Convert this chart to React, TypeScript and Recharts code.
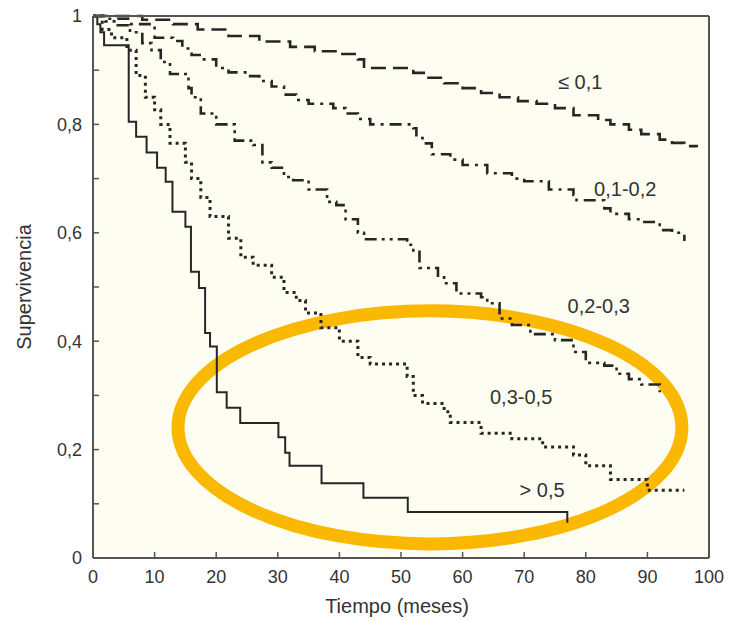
import React from 'react'
import {
  LineChart, Line, XAxis, YAxis, CartesianGrid, ReferenceArea, ReferenceDot, Label
} from 'recharts'

// Kaplan-Meier curves (tiempo en meses, supervivencia)
const groups = ['≤ 0,1', '0,1-0,2', '0,2-0,3', '0,3-0,5', '> 0,5']

const timeA = [0, 8, 13, 17, 22, 27, 32, 36, 40, 43, 44, 52, 54, 57, 60, 63, 66, 69, 72, 75, 78, 82, 84, 87, 89, 92, 94, 96, 98]
const survA = [1, 0.993, 0.985, 0.975, 0.963, 0.953, 0.943, 0.935, 0.93, 0.92, 0.904, 0.895, 0.886, 0.876, 0.867, 0.858, 0.85, 0.843, 0.838, 0.83, 0.817, 0.808, 0.8, 0.79, 0.782, 0.772, 0.766, 0.76, 0.758]

const timeB = [0, 2, 6, 10, 13, 14.5, 16, 18, 20, 22, 25, 27, 29, 31, 33, 35, 39, 41, 43, 45, 52, 52.5, 53.5, 55, 58, 60, 64, 68, 70, 74, 78, 78.5, 83, 84, 87, 89, 92, 94, 96]
const survB = [1, 0.995, 0.985, 0.96, 0.954, 0.94, 0.928, 0.92, 0.904, 0.896, 0.889, 0.88, 0.87, 0.855, 0.845, 0.838, 0.83, 0.82, 0.81, 0.8, 0.793, 0.775, 0.765, 0.745, 0.735, 0.725, 0.71, 0.7, 0.695, 0.68, 0.67, 0.66, 0.645, 0.635, 0.625, 0.62, 0.605, 0.6, 0.585]

const timeC = [0, 2, 4, 6, 8, 9.5, 11, 12.5, 15.5, 16, 17.5, 20, 23, 26, 27.5, 29, 31, 32.5, 35, 38, 39.5, 41, 43, 44, 51, 52, 53, 56, 57, 59, 63, 64, 66, 68, 71, 75, 78, 80, 83, 85, 87, 89, 92]
const survC = [1, 0.99, 0.983, 0.97, 0.95, 0.937, 0.915, 0.893, 0.867, 0.85, 0.82, 0.8, 0.77, 0.762, 0.73, 0.72, 0.703, 0.697, 0.68, 0.657, 0.651, 0.625, 0.6, 0.588, 0.578, 0.565, 0.535, 0.518, 0.507, 0.488, 0.481, 0.47, 0.442, 0.43, 0.413, 0.402, 0.38, 0.36, 0.355, 0.34, 0.33, 0.32, 0.306]

const timeD = [0, 1.5, 3, 5.5, 7, 8.5, 10, 11, 12.5, 15, 16, 17.5, 19, 22, 24, 26, 29, 31, 33, 34.5, 37, 40, 43, 45, 51, 52, 53.5, 57, 58, 63, 68, 73, 78, 80, 84, 90, 96]
const survD = [1, 0.975, 0.96, 0.937, 0.89, 0.85, 0.827, 0.8, 0.765, 0.73, 0.7, 0.665, 0.63, 0.59, 0.555, 0.54, 0.518, 0.49, 0.475, 0.452, 0.425, 0.4, 0.37, 0.358, 0.335, 0.3, 0.285, 0.27, 0.25, 0.23, 0.22, 0.205, 0.19, 0.17, 0.145, 0.125, 0.125]

const timeE = [0, 0.7, 1.2, 1.8, 5.8, 7, 8.7, 10.4, 11.8, 12.9, 15, 15.9, 17.2, 18.2, 19, 20.1, 21.7, 23.9, 30.1, 31.2, 31.9, 37.1, 43.9, 51.1, 77, 77]
const survE = [1, 0.985, 0.97, 0.946, 0.805, 0.777, 0.748, 0.72, 0.694, 0.639, 0.611, 0.528, 0.498, 0.415, 0.39, 0.306, 0.277, 0.249, 0.223, 0.194, 0.17, 0.138, 0.111, 0.085, 0.085, 0.065]

const xTicks = [0, 10, 20, 30, 40, 50, 60, 70, 80, 90, 100]
const yTicks = [0, 0.1, 0.2, 0.3, 0.4, 0.5, 0.6, 0.7, 0.8, 0.9, 1]

const toRows = (t: number[], s: number[]) => t.map((v, i) => ({ t: v, s: s[i] }))

const series = [
  { name: groups[0], data: toRows(timeA, survA), dash: '15 7', width: 2.6 },
  { name: groups[1], data: toRows(timeB, survB), dash: '12 6 3 6', width: 2.6 },
  { name: groups[2], data: toRows(timeC, survC), dash: '12 5 3 5 3 5', width: 2.6 },
  { name: groups[3], data: toRows(timeD, survD), dash: '3 4', width: 3 },
  { name: groups[4], data: toRows(timeE, survE), dash: undefined, width: 2 },
]

// where each group name sits, in data units
const labelSpots = [
  { x: 79.1, y: 0.878 },
  { x: 86.4, y: 0.681 },
  { x: 82.1, y: 0.465 },
  { x: 69.5, y: 0.297 },
  { x: 72.9, y: 0.125 },
]

const INK = '#262626'
const TEXT = '#333'
const FONT = '"Liberation Sans", Arial, sans-serif'

const fmtY = (v: number) => {
  const k = Math.round(v * 10)
  if (k % 2 !== 0) return ''
  if (k === 0) return '0'
  if (k === 10) return '1'
  return `0,${k}`
}

const Ellipse = (p: any) => (
  <ellipse
    cx={p.x + p.width / 2}
    cy={p.y + p.height / 2}
    rx={Math.abs(p.width) / 2}
    ry={Math.abs(p.height) / 2}
    fill="none"
    stroke="#fbb800"
    strokeWidth={13}
  />
)

export default function App() {
  return (
    <div style={{ position: 'absolute', left: 0, top: 0, background: '#fff', fontFamily: FONT }}>
      <LineChart width={731} height={621} margin={{ top: 0, right: 0, left: 0, bottom: 0 }}>
        <CartesianGrid fill="#fdfdf1" horizontal={false} vertical={false} />
        <XAxis
          dataKey="t" type="number" domain={[0, 100]} ticks={xTicks} interval={0}
          height={63} tickSize={-6} tickMargin={18}
          axisLine={{ stroke: '#555', strokeWidth: 2 }} tickLine={{ stroke: '#555', strokeWidth: 1.5 }}
          tick={{ fill: TEXT, fontSize: 18, fontFamily: FONT }}
        >
          <Label
            content={(p: any) => (
              <text x={p.viewBox.x + p.viewBox.width / 2 - 4} y={p.viewBox.y + p.viewBox.height - 8}
                textAnchor="middle" fill={TEXT} fontSize={20} fontFamily={FONT}>
                Tiempo (meses)
              </text>
            )}
          />
        </XAxis>
        <XAxis
          xAxisId="top" orientation="top" type="number" domain={[0, 100]} ticks={xTicks} interval={0}
          height={16} tickSize={-6} tickFormatter={() => ''}
          axisLine={{ stroke: '#555', strokeWidth: 2 }} tickLine={{ stroke: '#555', strokeWidth: 1.5 }}
        />
        <YAxis
          type="number" domain={[0, 1]} ticks={yTicks} interval={0} width={93}
          tickSize={-6} tickMargin={17} tickFormatter={fmtY}
          axisLine={{ stroke: '#555', strokeWidth: 2 }} tickLine={{ stroke: '#555', strokeWidth: 1.5 }}
          tick={{ fill: TEXT, fontSize: 18, fontFamily: FONT }}
        >
          <Label
            content={(p: any) => {
              const x = p.viewBox.x + 31
              const y = p.viewBox.y + p.viewBox.height / 2
              return (
                <text x={x} y={y} transform={`rotate(-90 ${x} ${y})`}
                  textAnchor="middle" fill={TEXT} fontSize={20} fontFamily={FONT}>
                  Supervivencia
                </text>
              )
            }}
          />
        </YAxis>
        <YAxis
          yAxisId="right" orientation="right" type="number" domain={[0, 1]} ticks={yTicks} interval={0}
          width={22} tickSize={-6} tickFormatter={() => ''}
          axisLine={{ stroke: '#555', strokeWidth: 2 }} tickLine={{ stroke: '#555', strokeWidth: 1.5 }}
        />

        {series.map((s) => (
          <Line
            key={s.name}
            data={s.data}
            dataKey="s"
            type="stepAfter"
            stroke={INK}
            strokeWidth={s.width}
            strokeDasharray={s.dash}
            dot={false}
            activeDot={false}
            isAnimationActive={false}
          />
        ))}

        {groups.map((g, i) => (
          <ReferenceDot
            key={g}
            x={labelSpots[i].x}
            y={labelSpots[i].y}
            r={0}
            shape={(p: any) => (
              <text x={p.cx} y={p.cy} dy="0.36em" textAnchor="middle" fill={TEXT} fontSize={20} fontFamily={FONT}>
                {g}
              </text>
            )}
          />
        ))}

        <ReferenceArea x1={13.8} x2={95.6} y1={0.026} y2={0.456} shape={Ellipse} ifOverflow="visible" />
      </LineChart>
    </div>
  )
}
